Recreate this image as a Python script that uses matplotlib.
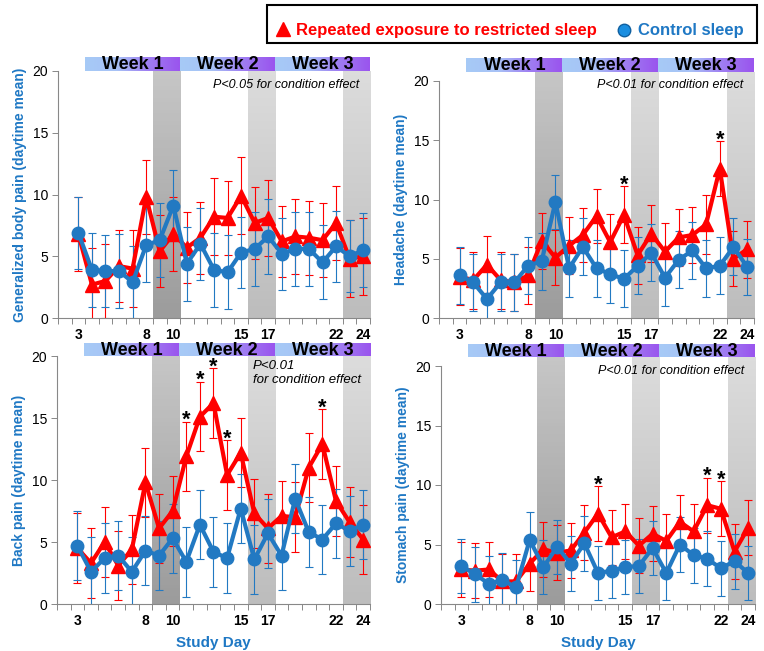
import numpy as np
import matplotlib
matplotlib.use("Agg")
import matplotlib.pyplot as plt
from matplotlib.colors import LinearSegmentedColormap
from matplotlib.lines import Line2D
from matplotlib.patches import Rectangle

plt.rcParams['font.family'] = ['Liberation Sans', 'DejaVu Sans']

days = list(range(3, 25))
tick_days = [3, 8, 10, 15, 17, 22, 24]
week_labels = ["Week 1", "Week 2", "Week 3"]

# Panel 1: Generalized body pain
body_restricted = [6.8, 2.7, 3.0, 4.2, 4.0, 9.8, 5.4, 6.8, 5.7, 6.5, 8.2, 8.1, 9.9, 7.7, 8.1, 6.2, 6.6, 6.5, 6.3, 7.7, 4.8, 5.0]
body_restricted_err = [3.0, 3.0, 3.0, 2.9, 3.1, 3.0, 2.9, 3.0, 2.9, 2.9, 3.1, 3.0, 3.1, 2.9, 3.1, 2.9, 3.0, 3.0, 3.0, 3.0, 3.1, 3.1]
body_control = [6.9, 3.9, 3.8, 3.8, 2.9, 5.9, 6.3, 9.1, 4.4, 6.0, 3.9, 3.7, 5.3, 5.6, 6.6, 5.2, 5.6, 5.6, 4.5, 5.8, 5.0, 5.5]
body_control_err = [2.9, 3.0, 2.9, 3.0, 2.9, 3.0, 3.0, 2.9, 3.0, 2.9, 3.0, 3.0, 2.9, 3.0, 3.0, 2.9, 3.0, 3.0, 3.0, 2.9, 2.9, 3.0]

# Panel 2: Headache
head_restricted = [3.5, 3.2, 4.5, 3.2, 3.0, 3.6, 6.5, 5.1, 6.1, 7.0, 8.6, 6.4, 8.7, 5.3, 7.1, 5.6, 6.8, 7.0, 7.9, 12.6, 5.0, 5.8]
head_restricted_err = [2.4, 2.4, 2.4, 2.4, 2.4, 2.4, 2.4, 2.3, 2.4, 2.3, 2.3, 2.4, 2.4, 2.4, 2.4, 2.4, 2.4, 2.4, 2.5, 2.3, 2.3, 2.4]
head_control = [3.6, 3.0, 1.6, 3.0, 3.0, 4.4, 4.8, 9.8, 4.2, 6.0, 4.2, 3.7, 3.3, 4.4, 5.5, 3.4, 4.9, 5.7, 4.2, 4.4, 6.0, 4.3]
head_control_err = [2.4, 2.4, 2.4, 2.4, 2.4, 2.4, 2.4, 2.3, 2.4, 2.4, 2.4, 2.4, 2.4, 2.4, 2.4, 2.4, 2.4, 2.4, 2.4, 2.4, 2.4, 2.4]

# Panel 3: Back pain
back_restricted = [4.5, 3.3, 5.0, 3.1, 4.4, 9.8, 6.1, 7.5, 11.9, 15.1, 16.2, 10.4, 12.2, 7.3, 6.1, 7.1, 7.0, 11.0, 12.9, 8.3, 6.6, 5.2]
back_restricted_err = [2.8] * 22
back_control = [4.7, 2.6, 3.7, 3.9, 2.6, 4.3, 3.9, 5.3, 3.4, 6.4, 4.2, 3.7, 7.7, 3.6, 5.7, 3.9, 8.5, 5.8, 5.2, 6.5, 5.9, 6.4]
back_control_err = [2.8] * 22

# Panel 4: Stomach pain
stom_restricted = [2.9, 2.8, 2.9, 1.9, 1.9, 3.4, 4.6, 4.3, 4.5, 6.0, 7.6, 5.6, 6.1, 4.9, 5.9, 5.3, 6.9, 6.1, 8.3, 8.0, 4.4, 6.4]
stom_restricted_err = [2.3] * 22
stom_control = [3.2, 2.5, 1.7, 2.0, 1.4, 5.4, 3.1, 4.8, 3.4, 5.1, 2.6, 2.8, 3.1, 3.2, 4.7, 2.6, 5.0, 4.1, 3.8, 3.0, 3.6, 2.6]
stom_control_err = [2.3] * 22

panels = [
    dict(ylabel="Generalized body pain (daytime mean)", r=body_restricted, re=body_restricted_err,
         c=body_control, ce=body_control_err, stars=[], ptext="P<0.05 for condition effect",
         ax_px=(58, 71, 370, 318), wk_px=(58, 57, 370, 71), xlabel=False, py=18.9),
    dict(ylabel="Headache (daytime mean)", r=head_restricted, re=head_restricted_err,
         c=head_control, ce=head_control_err, stars=[15, 22], ptext="P<0.01 for condition effect",
         ax_px=(439, 81, 754, 318), wk_px=(439, 58, 754, 72), xlabel=False, py=19.7),
    dict(ylabel="Back pain (daytime mean)", r=back_restricted, re=back_restricted_err,
         c=back_control, ce=back_control_err, stars=[11, 12, 13, 14, 21], ptext="P<0.01\nfor condition effect",
         ax_px=(57, 356, 370, 604), wk_px=(57, 343, 370, 356), xlabel=True, py=19.7),
    dict(ylabel="Stomach pain (daytime mean)", r=stom_restricted, re=stom_restricted_err,
         c=stom_control, ce=stom_control_err, stars=[13, 21, 22], ptext="P<0.01 for condition effect",
         ax_px=(441, 366, 755, 604), wk_px=(441, 344, 755, 357), xlabel=True, py=19.6),
]

W, H = 764, 651
RED = "#ff0000"
BLUE = "#2279c2"
LBLUE = "#1f78c4"

fig = plt.figure(figsize=(W / 100, H / 100), dpi=100)

def px_rect(x0, y0, x1, y1):
    return [x0 / W, 1 - y1 / H, (x1 - x0) / W, (y1 - y0) / H]

dark_band = LinearSegmentedColormap.from_list("db", ["#c6c6c6", "#9c9c9c"])
light_band = LinearSegmentedColormap.from_list("lb", ["#dcdcdc", "#bdbdbd"])
week_cmap = LinearSegmentedColormap.from_list("wk", ["#a6caf6", "#a8c2f6", "#9f7ef2", "#9a55ee"])
grad_v = np.linspace(0, 1, 64).reshape(-1, 1)
grad_h = np.linspace(0, 1, 64).reshape(1, -1)

bands = [(8.5, 10.5, dark_band), (15.5, 17.5, light_band), (22.5, 24.5, light_band)]
weeks = [(3.5, 10.5), (10.5, 17.5), (17.5, 24.5)]

for i, p in enumerate(panels):
    ax = fig.add_axes(px_rect(*p["ax_px"]))
    x0, y0, x1, y1 = p["ax_px"]
    wk_bottom = p["wk_px"][3]
    extra = (y0 - wk_bottom) / (y1 - y0) * 20.0
    top = 20 + max(extra, 0)
    for b0, b1, cm in bands:
        ax.imshow(grad_v, cmap=cm, extent=[b0, b1, 0, top], aspect="auto",
                  origin="upper", zorder=0, clip_on=False)

    ax.errorbar(days, p["r"], yerr=p["re"], fmt="none", ecolor=RED, elinewidth=0.8,
                capsize=3, capthick=0.8, zorder=2)
    ax.errorbar(days, p["c"], yerr=p["ce"], fmt="none", ecolor=BLUE, elinewidth=0.8,
                capsize=3, capthick=0.8, zorder=2)
    ax.plot(days, p["r"], color=RED, lw=3, marker="^", ms=10, zorder=3)
    ax.plot(days, p["c"], color=BLUE, lw=3, marker="o", ms=9, zorder=4)

    for d in p["stars"]:
        k = days.index(d)
        ax.annotate("*", xy=(d, p["r"][k] + p["re"][k]), xytext=(0, -3),
                    textcoords="offset points", ha="center", va="baseline",
                    fontsize=15.5, fontweight="bold", color="black", zorder=5,
                    annotation_clip=False)

    if "\n" in p["ptext"]:
        ax.text(15.9, p["py"], p["ptext"], ha="left", va="top", fontsize=9.5,
                style="italic", linespacing=1.25, zorder=5)
    else:
        ax.text(23.7, p["py"], p["ptext"], ha="right", va="center",
                fontsize=9, style="italic", zorder=5)

    ax.set_xlim(1.5, 24.5)
    ax.set_ylim(0, 20)
    ax.set_yticks([0, 5, 10, 15, 20])
    ax.set_xticks(tick_days)
    ax.set_xticklabels([str(t) for t in tick_days], fontweight="bold")
    ax.set_xticks(np.arange(1.5, 25, 1.0), minor=True)
    ax.tick_params(axis="x", which="major", length=0, pad=7, labelsize=10)
    ax.tick_params(axis="x", which="minor", length=4, width=0.7, color="#888888")
    ax.tick_params(axis="y", length=4, width=0.7, color="#888888", labelsize=10, pad=3)
    for s in ["top", "right"]:
        ax.spines[s].set_visible(False)
    for s in ["left", "bottom"]:
        ax.spines[s].set_color("#888888")
        ax.spines[s].set_linewidth(0.8)
    ax.set_ylabel(p["ylabel"], color=LBLUE, fontsize=10, fontweight="bold", labelpad=4)
    if p["xlabel"]:
        ax.set_xlabel("Study Day", color=LBLUE, fontsize=11, fontweight="bold", labelpad=6)

    wax = fig.add_axes(px_rect(*p["wk_px"]))
    for (w0, w1), lab in zip(weeks, week_labels):
        wax.imshow(grad_h, cmap=week_cmap, extent=[w0, w1, 0, 1], aspect="auto", zorder=0)
        wax.text((w0 + w1) / 2, 0.45, lab, ha="center", va="center", fontsize=13,
                 fontweight="bold", color="black")
    wax.set_xlim(1.5, 24.5)
    wax.set_ylim(0, 1)
    wax.axis("off")

# Legend box
fig.add_artist(Rectangle((267 / W, 1 - 43 / H), (757 - 267) / W, 38 / H,
                         transform=fig.transFigure, fill=False, edgecolor="black", lw=1.5))
fig.add_artist(Line2D([283 / W], [1 - 29 / H], transform=fig.transFigure, marker="^",
                      ms=10, color=RED, lw=0))
fig.text(296 / W, 1 - 31 / H, "Repeated exposure to restricted sleep", color=RED,
         fontsize=12, fontweight="bold", ha="left", va="center")
fig.add_artist(Line2D([624 / W], [1 - 30 / H], transform=fig.transFigure, marker="o",
                      ms=9, color="#1a8ee0", markeredgecolor="#1060a0", lw=0))
fig.text(638 / W, 1 - 31 / H, "Control sleep", color=LBLUE,
         fontsize=12, fontweight="bold", ha="left", va="center")

fig.savefig("out.png", dpi=100)
